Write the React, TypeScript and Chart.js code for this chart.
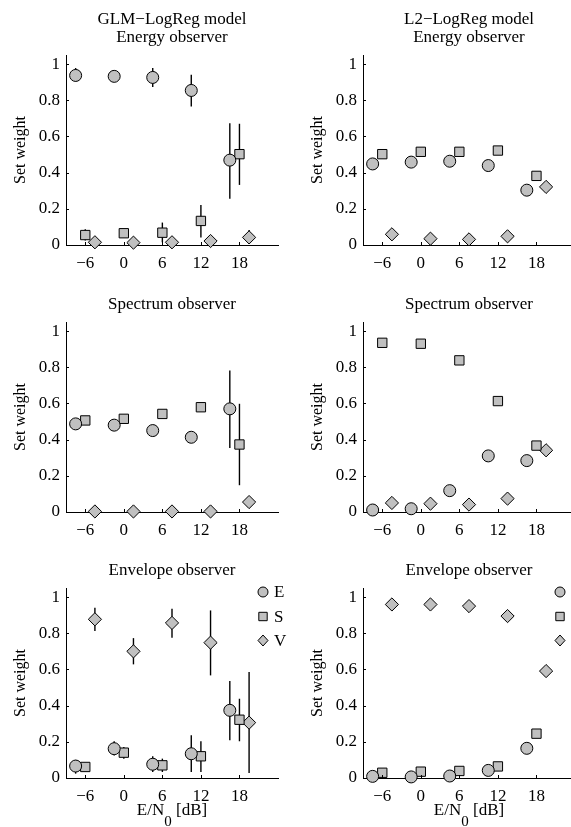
import React, { useEffect, useRef } from "react";
import { Chart, registerables } from "chart.js";

Chart.register(...registerables);

// ---------- data ----------
const SNR_DB = [-6, 0, 6, 12, 18];
const X_TICKS = [-6, 0, 6, 12, 18];
const Y_TICKS = [0, 0.2, 0.4, 0.6, 0.8, 1];
const SET_NAMES = ["E", "S", "V"];
const SET_OFFSETS = [-1.5, 0, 1.5];

// GLM-LogReg, Energy observer
const GLM_ENERGY_E = [0.937, 0.932, 0.926, 0.854, 0.469];
const GLM_ENERGY_E_LO = [0.904, 0.915, 0.873, 0.766, 0.255];
const GLM_ENERGY_E_HI = [0.978, 0.95, 0.978, 0.941, 0.673];
const GLM_ENERGY_S = [0.055, 0.065, 0.068, 0.133, 0.502];
const GLM_ENERGY_S_LO = [0.025, 0.045, 0.015, 0.042, 0.332];
const GLM_ENERGY_S_HI = [0.087, 0.085, 0.124, 0.221, 0.67];
const GLM_ENERGY_V = [0.015, 0.013, 0.015, 0.022, 0.042];
const GLM_ENERGY_V_LO = [0.0, 0.0, 0.0, 0.0, 0.005];
const GLM_ENERGY_V_HI = [0.03, 0.03, 0.03, 0.04, 0.083];

// L2-LogReg, Energy observer
const L2_ENERGY_E = [0.448, 0.458, 0.463, 0.439, 0.303];
const L2_ENERGY_S = [0.502, 0.515, 0.515, 0.522, 0.382];
const L2_ENERGY_V = [0.059, 0.035, 0.031, 0.048, 0.321];

// GLM-LogReg, Spectrum observer
const GLM_SPECTRUM_E = [0.487, 0.48, 0.45, 0.413, 0.57];
const GLM_SPECTRUM_E_LO = [null, null, null, null, 0.354];
const GLM_SPECTRUM_E_HI = [null, null, null, null, 0.782];
const GLM_SPECTRUM_S = [0.506, 0.515, 0.542, 0.579, 0.373];
const GLM_SPECTRUM_S_LO = [null, null, null, null, 0.148];
const GLM_SPECTRUM_S_HI = [null, null, null, null, 0.598];
const GLM_SPECTRUM_V = [0.003, 0.003, 0.003, 0.003, 0.055];

// L2-LogReg, Spectrum observer
const L2_SPECTRUM_E = [0.011, 0.018, 0.118, 0.31, 0.284];
const L2_SPECTRUM_S = [0.935, 0.93, 0.838, 0.613, 0.367];
const L2_SPECTRUM_V = [0.05, 0.046, 0.041, 0.074, 0.341];

// GLM-LogReg, Envelope observer
const GLM_ENVELOPE_E = [0.066, 0.162, 0.076, 0.134, 0.374];
const GLM_ENVELOPE_E_LO = [0.024, 0.125, 0.033, 0.033, 0.208];
const GLM_ENVELOPE_E_HI = [0.1, 0.203, 0.12, 0.236, 0.536];
const GLM_ENVELOPE_S = [0.061, 0.14, 0.07, 0.12, 0.322];
const GLM_ENVELOPE_S_LO = [0.04, 0.107, 0.033, 0.033, 0.203];
const GLM_ENVELOPE_S_HI = [0.08, 0.171, 0.107, 0.203, 0.438];
const GLM_ENVELOPE_V = [0.877, 0.7, 0.857, 0.748, 0.306];
const GLM_ENVELOPE_V_LO = [0.812, 0.628, 0.775, 0.567, 0.028];
const GLM_ENVELOPE_V_HI = [0.941, 0.773, 0.936, 0.926, 0.586];

// L2-LogReg, Envelope observer
const L2_ENVELOPE_E = [0.009, 0.006, 0.011, 0.042, 0.164];
const L2_ENVELOPE_S = [0.029, 0.035, 0.039, 0.064, 0.245];
const L2_ENVELOPE_V = [0.959, 0.959, 0.95, 0.895, 0.591];

// ---------- styling ----------
const FONT = '"Liberation Serif", "Times New Roman", Times, serif';
const FILL = "#c0c0c0";
const POINT_STYLES = ["circle", "rect", "rectRot"];
const POINT_RADII = [6, 6.6, 6.6];

type Panel = {
  titles: string[];
  values: number[][];
  lo: (number | null)[][] | null;
  hi: (number | null)[][] | null;
  xTitle: boolean;
  legend: boolean;
};

const PANELS: Panel[][] = [
  [
    {
      titles: ["GLM\u2212LogReg model", "Energy observer"],
      values: [GLM_ENERGY_E, GLM_ENERGY_S, GLM_ENERGY_V],
      lo: [GLM_ENERGY_E_LO, GLM_ENERGY_S_LO, GLM_ENERGY_V_LO],
      hi: [GLM_ENERGY_E_HI, GLM_ENERGY_S_HI, GLM_ENERGY_V_HI],
      xTitle: false,
      legend: false,
    },
    {
      titles: ["L2\u2212LogReg model", "Energy observer"],
      values: [L2_ENERGY_E, L2_ENERGY_S, L2_ENERGY_V],
      lo: null,
      hi: null,
      xTitle: false,
      legend: false,
    },
  ],
  [
    {
      titles: ["Spectrum observer"],
      values: [GLM_SPECTRUM_E, GLM_SPECTRUM_S, GLM_SPECTRUM_V],
      lo: [GLM_SPECTRUM_E_LO, GLM_SPECTRUM_S_LO, [null, null, null, null, null]],
      hi: [GLM_SPECTRUM_E_HI, GLM_SPECTRUM_S_HI, [null, null, null, null, null]],
      xTitle: false,
      legend: false,
    },
    {
      titles: ["Spectrum observer"],
      values: [L2_SPECTRUM_E, L2_SPECTRUM_S, L2_SPECTRUM_V],
      lo: null,
      hi: null,
      xTitle: false,
      legend: false,
    },
  ],
  [
    {
      titles: ["Envelope observer"],
      values: [GLM_ENVELOPE_E, GLM_ENVELOPE_S, GLM_ENVELOPE_V],
      lo: [GLM_ENVELOPE_E_LO, GLM_ENVELOPE_S_LO, GLM_ENVELOPE_V_LO],
      hi: [GLM_ENVELOPE_E_HI, GLM_ENVELOPE_S_HI, GLM_ENVELOPE_V_HI],
      xTitle: true,
      legend: true,
    },
    {
      titles: ["Envelope observer"],
      values: [L2_ENVELOPE_E, L2_ENVELOPE_S, L2_ENVELOPE_V],
      lo: null,
      hi: null,
      xTitle: true,
      legend: true,
    },
  ],
];

const CANVAS_W = 296;
const CANVAS_H = 294;
const COL_LEFT = [0, 297];
const ROW_TOP = [0, 267, 533];

function drawMarker(ctx: CanvasRenderingContext2D, style: string, x: number, y: number, r: number) {
  ctx.beginPath();
  if (style === "circle") {
    ctx.arc(x, y, r, 0, Math.PI * 2);
  } else if (style === "rect") {
    ctx.rect(x - r, y - r, 2 * r, 2 * r);
  } else {
    ctx.moveTo(x, y - r * 1.1);
    ctx.lineTo(x + r, y);
    ctx.lineTo(x, y + r * 1.1);
    ctx.lineTo(x - r, y);
    ctx.closePath();
  }
  ctx.fillStyle = FILL;
  ctx.fill();
  ctx.lineWidth = 1;
  ctx.strokeStyle = "#000";
  ctx.stroke();
}

function makePlugin(panel: Panel) {
  return {
    id: "panelDecor",
    beforeDatasetsDraw(chart: any) {
      if (!panel.lo || !panel.hi) return;
      const ctx = chart.ctx as CanvasRenderingContext2D;
      const xs = chart.scales.x;
      const ys = chart.scales.y;
      ctx.save();
      ctx.strokeStyle = "#000";
      ctx.lineWidth = 1.4;
      for (let k = 0; k < 3; k++) {
        for (let i = 0; i < SNR_DB.length; i++) {
          const lo = panel.lo[k][i];
          const hi = panel.hi[k][i];
          if (lo == null || hi == null) continue;
          const px = xs.getPixelForValue(SNR_DB[i] + SET_OFFSETS[k]);
          ctx.beginPath();
          ctx.moveTo(px, ys.getPixelForValue(lo));
          ctx.lineTo(px, ys.getPixelForValue(hi));
          ctx.stroke();
        }
      }
      ctx.restore();
    },
    afterDraw(chart: any) {
      const ctx = chart.ctx as CanvasRenderingContext2D;
      const area = chart.chartArea;
      const xs = chart.scales.x;
      const ys = chart.scales.y;
      ctx.save();
      // inward tick marks
      ctx.strokeStyle = "#000";
      ctx.lineWidth = 1;
      for (const v of X_TICKS) {
        const px = Math.round(xs.getPixelForValue(v)) + 0.5;
        ctx.beginPath();
        ctx.moveTo(px, area.bottom);
        ctx.lineTo(px, area.bottom - 3);
        ctx.stroke();
      }
      for (const v of Y_TICKS) {
        const py = Math.round(ys.getPixelForValue(v)) + 0.5;
        ctx.beginPath();
        ctx.moveTo(area.left, py);
        ctx.lineTo(area.left + 3, py);
        ctx.stroke();
      }
      // titles
      const cx = (area.left + area.right) / 2;
      ctx.fillStyle = "#000";
      ctx.textAlign = "center";
      ctx.textBaseline = "alphabetic";
      ctx.font = `17px ${FONT}`;
      const n = panel.titles.length;
      panel.titles.forEach((t, j) => {
        ctx.fillText(t, cx, 42 - (n - 1 - j) * 18.5);
      });
      // y title
      ctx.save();
      ctx.translate(21, (area.top + area.bottom) / 2);
      ctx.rotate(-Math.PI / 2);
      ctx.textAlign = "center";
      ctx.textBaseline = "middle";
      ctx.font = `16px ${FONT}`;
      ctx.fillText("Set weight", 0, 0);
      ctx.restore();
      // x title with subscript
      if (panel.xTitle) {
        ctx.font = `17px ${FONT}`;
        const a = "E/N";
        const sub = "0";
        const b = " [dB]";
        const wa = ctx.measureText(a).width;
        ctx.font = `15px ${FONT}`;
        const ws = ctx.measureText(sub).width;
        ctx.font = `17px ${FONT}`;
        const wb = ctx.measureText(b).width;
        const total = wa + ws + wb;
        const x0 = cx - total / 2;
        const base = area.bottom + 37;
        ctx.textAlign = "left";
        ctx.textBaseline = "alphabetic";
        ctx.fillText(a, x0, base);
        ctx.font = `15px ${FONT}`;
        ctx.fillText(sub, x0 + wa, base + 11);
        ctx.font = `17px ${FONT}`;
        ctx.fillText(b, x0 + wa + ws, base);
      }
      // legend
      if (panel.legend) {
        const lx = area.left + 197;
        const rows = [4, 28.5, 52.5];
        const lr = [5, 4.2, 5];
        ctx.font = `17px ${FONT}`;
        ctx.textAlign = "left";
        ctx.textBaseline = "middle";
        for (let k = 0; k < 3; k++) {
          const ly = area.top + rows[k];
          drawMarker(ctx, POINT_STYLES[k], lx, ly, lr[k]);
          ctx.fillStyle = "#000";
          ctx.fillText(SET_NAMES[k], lx + 11, ly + 1);
        }
      }
      ctx.restore();
    },
  };
}

function PanelChart({ panel, row, col }: { panel: Panel; row: number; col: number }) {
  const ref = useRef<HTMLCanvasElement | null>(null);
  useEffect(() => {
    const canvas = ref.current;
    if (!canvas) return;
    const xAxisH = CANVAS_H - 55 - 190;
    const chart = new Chart(canvas, {
      type: "scatter",
      data: {
        datasets: SET_NAMES.map((name, k) => ({
          label: name,
          data: SNR_DB.map((x, i) => ({ x: x + SET_OFFSETS[k], y: panel.values[k][i] })),
          pointStyle: POINT_STYLES[k] as any,
          pointRadius: POINT_RADII[k],
          pointHoverRadius: POINT_RADII[k],
          pointBackgroundColor: FILL,
          pointBorderColor: "#000",
          pointBorderWidth: 1,
          showLine: false,
          clip: false as any,
        })),
      },
      options: {
        responsive: false,
        animation: false,
        events: [],
        layout: { padding: { left: 16, right: 18, top: 55, bottom: 0 } },
        plugins: {
          legend: { display: false },
          tooltip: { enabled: false },
          title: { display: false },
        },
        scales: {
          x: {
            type: "linear",
            min: -9,
            max: 24,
            afterBuildTicks: (s: any) => {
              s.ticks = X_TICKS.map((v) => ({ value: v }));
            },
            afterFit: (s: any) => {
              s.height = xAxisH;
            },
            grid: { display: true, drawOnChartArea: false, drawTicks: false, color: "rgba(0,0,0,0)" },
            border: { display: true, color: "#000", width: 1 },
            ticks: {
              padding: 8,
              autoSkip: false,
              maxRotation: 0,
              color: "#000",
              font: { family: FONT, size: 17 },
              callback: (v: any) => String(v).replace("-", "\u2212"),
            },
          },
          y: {
            type: "linear",
            min: 0,
            max: 1.05,
            afterBuildTicks: (s: any) => {
              s.ticks = Y_TICKS.map((v) => ({ value: v }));
            },
            afterFit: (s: any) => {
              s.width = 50;
            },
            grid: { display: true, drawOnChartArea: false, drawTicks: false, color: "rgba(0,0,0,0)" },
            border: { display: true, color: "#000", width: 1 },
            ticks: {
              padding: 6,
              color: "#000",
              font: { family: FONT, size: 17 },
              callback: (v: any) => String(v),
            },
          },
        },
      },
      plugins: [makePlugin(panel)],
    } as any);
    return () => chart.destroy();
  }, [panel]);
  return (
    <canvas
      ref={ref}
      width={CANVAS_W}
      height={CANVAS_H}
      style={{
        position: "absolute",
        left: COL_LEFT[col],
        top: ROW_TOP[row],
        width: CANVAS_W,
        height: CANVAS_H,
      }}
    />
  );
}

export default function App() {
  return (
    <div
      style={{
        position: "absolute",
        left: 0,
        top: 0,
        width: 571,
        height: 827,
        overflow: "hidden",
        background: "#fff",
      }}
    >
      {PANELS.map((rowPanels, r) =>
        rowPanels.map((p, c) => <PanelChart key={`${r}-${c}`} panel={p} row={r} col={c} />)
      )}
    </div>
  );
}
